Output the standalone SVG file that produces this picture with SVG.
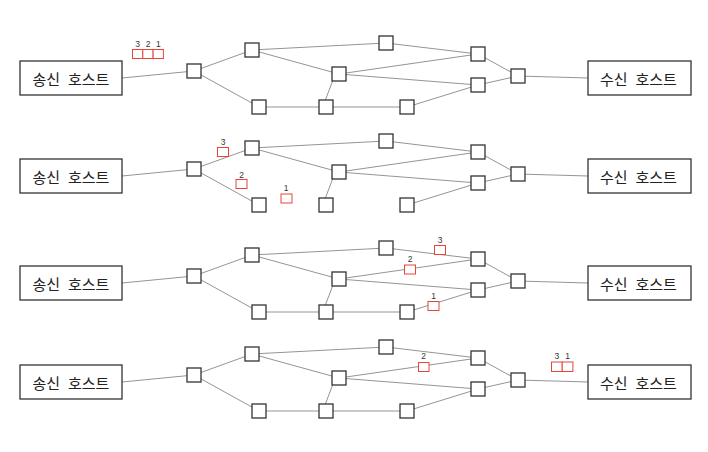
<svg xmlns="http://www.w3.org/2000/svg" width="708" height="452" viewBox="0 0 708 452">
<style>
.host rect{fill:#fff;stroke:#333;stroke-width:1.3}
.host text{font-family:"Noto Sans CJK KR","Noto Sans",sans-serif;font-size:15px;word-spacing:4.5px;fill:#222;text-anchor:middle;dominant-baseline:central}
.rt{fill:#fff;stroke:#333;stroke-width:1.3}
.edges line{stroke:#888;stroke-width:0.9}
.pk{fill:#fff;stroke:#e8443a;stroke-width:1}
.pl{font-family:"Liberation Sans",Arial,sans-serif;font-size:8.5px;fill:#333;text-anchor:middle}
</style>
<defs>
<rect id="r" class="rt" width="14" height="14"/>
</defs>
<rect width="708" height="452" fill="#fff"/>

<!-- Panel 1 -->
<g id="panel1">
<g class="edges">
<line x1="122" y1="78" x2="194" y2="71"/>
<line x1="194" y1="71" x2="252" y2="50"/>
<line x1="194" y1="71" x2="259" y2="107"/>
<line x1="252" y1="50" x2="386" y2="43"/>
<line x1="252" y1="50" x2="339" y2="74"/>
<line x1="386" y1="43" x2="478" y2="54"/>
<line x1="339" y1="74" x2="478" y2="54"/>
<line x1="339" y1="74" x2="478" y2="85"/>
<line x1="333" y1="80" x2="325" y2="101"/>
<line x1="259" y1="107" x2="326" y2="107"/>
<line x1="326" y1="107" x2="407" y2="107"/>
<line x1="407" y1="107" x2="478" y2="85"/>
<line x1="478" y1="54" x2="518" y2="76"/>
<line x1="478" y1="85" x2="518" y2="76"/>
<line x1="518" y1="76" x2="588" y2="78"/>
</g>
<g id="p1-sender" class="host"><rect x="20" y="61" width="102" height="34"/><text x="71" y="78.5">송신 호스트</text></g>
<g id="p1-receiver" class="host"><rect x="588" y="61" width="103" height="34"/><text x="638.5" y="78.5">수신 호스트</text></g>
<g id="p1-a"><use href="#r" x="187" y="64"/></g>
<g id="p1-b"><use href="#r" x="245" y="43"/></g>
<g id="p1-c"><use href="#r" x="332" y="67"/></g>
<g id="p1-d"><use href="#r" x="252" y="100"/></g>
<g id="p1-e"><use href="#r" x="319" y="100"/></g>
<g id="p1-f"><use href="#r" x="379" y="36"/></g>
<g id="p1-g"><use href="#r" x="471" y="47"/></g>
<g id="p1-h"><use href="#r" x="471" y="78"/></g>
<g id="p1-i"><use href="#r" x="400" y="100"/></g>
<g id="p1-j"><use href="#r" x="511" y="69"/></g>
<g id="p1-packets">
<rect class="pk" x="132.5" y="49.5" width="10.3" height="9"/>
<rect class="pk" x="142.8" y="49.5" width="10.3" height="9"/>
<rect class="pk" x="153.1" y="49.5" width="10.3" height="9"/>
<text class="pl" x="137.5" y="47">3</text>
<text class="pl" x="148" y="47">2</text>
<text class="pl" x="158.3" y="47">1</text>
</g>
</g>

<!-- Panel 2 -->
<g id="panel2">
<g class="edges" transform="translate(0,98)">
<line x1="122" y1="78" x2="194" y2="71"/>
<line x1="194" y1="71" x2="252" y2="50"/>
<line x1="194" y1="71" x2="259" y2="107"/>
<line x1="252" y1="50" x2="386" y2="43"/>
<line x1="252" y1="50" x2="339" y2="74"/>
<line x1="386" y1="43" x2="478" y2="54"/>
<line x1="339" y1="74" x2="478" y2="54"/>
<line x1="339" y1="74" x2="478" y2="85"/>
<line x1="333" y1="80" x2="325" y2="101"/>
<line x1="407" y1="107" x2="478" y2="85"/>
<line x1="478" y1="54" x2="518" y2="76"/>
<line x1="478" y1="85" x2="518" y2="76"/>
<line x1="518" y1="76" x2="588" y2="78"/>
</g>
<g transform="translate(0,98)">
<g id="p2-sender" class="host"><rect x="20" y="61" width="102" height="34"/><text x="71" y="78.5">송신 호스트</text></g>
<g id="p2-receiver" class="host"><rect x="588" y="61" width="103" height="34"/><text x="638.5" y="78.5">수신 호스트</text></g>
<g id="p2-a"><use href="#r" x="187" y="64"/></g>
<g id="p2-b"><use href="#r" x="245" y="43"/></g>
<g id="p2-c"><use href="#r" x="332" y="67"/></g>
<g id="p2-d"><use href="#r" x="252" y="100"/></g>
<g id="p2-e"><use href="#r" x="319" y="100"/></g>
<g id="p2-f"><use href="#r" x="379" y="36"/></g>
<g id="p2-g"><use href="#r" x="471" y="47"/></g>
<g id="p2-h"><use href="#r" x="471" y="78"/></g>
<g id="p2-i"><use href="#r" x="400" y="100"/></g>
<g id="p2-j"><use href="#r" x="511" y="69"/></g>
</g>
<g id="p2-packets">
<rect class="pk" x="217.5" y="147.5" width="11" height="9"/>
<text class="pl" x="223" y="144.5">3</text>
<rect class="pk" x="236" y="179.5" width="11" height="9"/>
<text class="pl" x="241.5" y="177.7">2</text>
<rect class="pk" x="281" y="194" width="11" height="9"/>
<text class="pl" x="286" y="190.5">1</text>
</g>
</g>

<!-- Panel 3 -->
<g id="panel3">
<g class="edges" transform="translate(0,205)">
<line x1="122" y1="78" x2="194" y2="71"/>
<line x1="194" y1="71" x2="252" y2="50"/>
<line x1="194" y1="71" x2="259" y2="107"/>
<line x1="252" y1="50" x2="386" y2="43"/>
<line x1="252" y1="50" x2="339" y2="74"/>
<line x1="386" y1="43" x2="478" y2="54"/>
<line x1="339" y1="74" x2="478" y2="54"/>
<line x1="339" y1="74" x2="478" y2="85"/>
<line x1="333" y1="80" x2="325" y2="101"/>
<line x1="259" y1="107" x2="326" y2="107"/>
<line x1="326" y1="107" x2="407" y2="107"/>
<line x1="407" y1="107" x2="478" y2="85"/>
<line x1="478" y1="54" x2="518" y2="76"/>
<line x1="478" y1="85" x2="518" y2="76"/>
<line x1="518" y1="76" x2="588" y2="78"/>
</g>
<g transform="translate(0,205)">
<g id="p3-sender" class="host"><rect x="20" y="61" width="102" height="34"/><text x="71" y="78.5">송신 호스트</text></g>
<g id="p3-receiver" class="host"><rect x="588" y="61" width="103" height="34"/><text x="638.5" y="78.5">수신 호스트</text></g>
<g id="p3-a"><use href="#r" x="187" y="64"/></g>
<g id="p3-b"><use href="#r" x="245" y="43"/></g>
<g id="p3-c"><use href="#r" x="332" y="67"/></g>
<g id="p3-d"><use href="#r" x="252" y="100"/></g>
<g id="p3-e"><use href="#r" x="319" y="100"/></g>
<g id="p3-f"><use href="#r" x="379" y="36"/></g>
<g id="p3-g"><use href="#r" x="471" y="47"/></g>
<g id="p3-h"><use href="#r" x="471" y="78"/></g>
<g id="p3-i"><use href="#r" x="400" y="100"/></g>
<g id="p3-j"><use href="#r" x="511" y="69"/></g>
</g>
<g id="p3-packets">
<rect class="pk" x="434.5" y="245.5" width="11" height="9"/>
<text class="pl" x="440" y="242.7">3</text>
<rect class="pk" x="404.5" y="265" width="11" height="9"/>
<text class="pl" x="410" y="262">2</text>
<rect class="pk" x="428" y="301.5" width="11" height="9"/>
<text class="pl" x="433.5" y="298.7">1</text>
</g>
</g>

<!-- Panel 4 -->
<g id="panel4">
<g class="edges" transform="translate(0,304)">
<line x1="122" y1="78" x2="194" y2="71"/>
<line x1="194" y1="71" x2="252" y2="50"/>
<line x1="194" y1="71" x2="259" y2="107"/>
<line x1="252" y1="50" x2="386" y2="43"/>
<line x1="252" y1="50" x2="339" y2="74"/>
<line x1="386" y1="43" x2="478" y2="54"/>
<line x1="339" y1="74" x2="478" y2="54"/>
<line x1="339" y1="74" x2="478" y2="85"/>
<line x1="333" y1="80" x2="325" y2="101"/>
<line x1="259" y1="107" x2="326" y2="107"/>
<line x1="326" y1="107" x2="407" y2="107"/>
<line x1="407" y1="107" x2="478" y2="85"/>
<line x1="478" y1="54" x2="518" y2="76"/>
<line x1="478" y1="85" x2="518" y2="76"/>
<line x1="518" y1="76" x2="588" y2="78"/>
</g>
<g transform="translate(0,304)">
<g id="p4-sender" class="host"><rect x="20" y="61" width="102" height="34"/><text x="71" y="78.5">송신 호스트</text></g>
<g id="p4-receiver" class="host"><rect x="588" y="61" width="103" height="34"/><text x="638.5" y="78.5">수신 호스트</text></g>
<g id="p4-a"><use href="#r" x="187" y="64"/></g>
<g id="p4-b"><use href="#r" x="245" y="43"/></g>
<g id="p4-c"><use href="#r" x="332" y="67"/></g>
<g id="p4-d"><use href="#r" x="252" y="100"/></g>
<g id="p4-e"><use href="#r" x="319" y="100"/></g>
<g id="p4-f"><use href="#r" x="379" y="36"/></g>
<g id="p4-g"><use href="#r" x="471" y="47"/></g>
<g id="p4-h"><use href="#r" x="471" y="78"/></g>
<g id="p4-i"><use href="#r" x="400" y="100"/></g>
<g id="p4-j"><use href="#r" x="511" y="69"/></g>
</g>
<g id="p4-packets">
<rect class="pk" x="418.5" y="362.5" width="10.5" height="9"/>
<text class="pl" x="423.7" y="359.3">2</text>
<rect class="pk" x="551.5" y="362" width="10.7" height="9.5"/>
<rect class="pk" x="562.2" y="362" width="10.7" height="9.5"/>
<text class="pl" x="556.8" y="359.3">3</text>
<text class="pl" x="567.5" y="359.3">1</text>
</g>
</g>
</svg>
